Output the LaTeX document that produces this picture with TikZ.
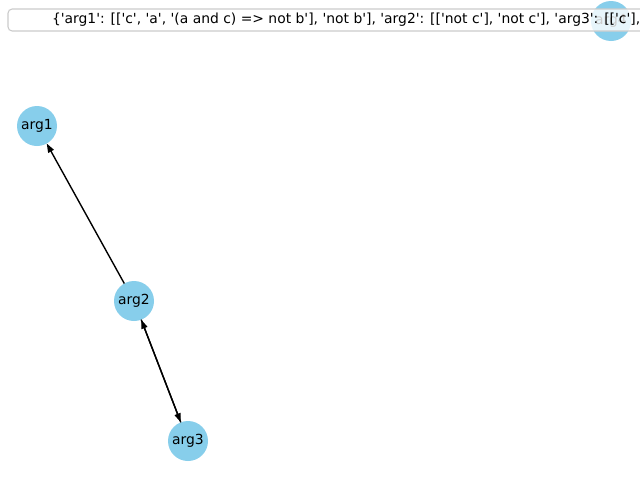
\documentclass[tikz,border=0pt]{standalone}
\usepackage{fontspec}
\setmainfont[Ligatures=TeXOff]{DejaVu Sans}
\usetikzlibrary{arrows.meta}
\begin{document}
\begin{tikzpicture}[x=0.72pt,y=-0.72pt,
  argnode/.style={circle,fill=nodeColor,draw=none,minimum size=28.8pt,inner sep=0pt,outer sep=0pt,font=\fontsize{10}{12}\selectfont},
  attack/.style={draw=drawColor,line width=1pt,-{Triangle[length=6.5pt,width=4.5pt]}}]
\definecolor{fillColor}{RGB}{255,255,255}
\definecolor{nodeColor}{RGB}{135,206,235}
\definecolor{drawColor}{RGB}{0,0,0}
\definecolor{frameColor}{RGB}{204,204,204}
\path[use as bounding box,fill=fillColor] (0,0) rectangle (640,480);
\begin{scope}
\path[clip] (0,0) rectangle (640,480);

\node[argnode] (arg1) at ( 37,126) {arg1};
\node[argnode] (arg2) at (134,301) {arg2};
\node[argnode] (arg3) at (188,441) {arg3};
\node[argnode] (arg4) at (611, 21) {arg4};

\draw[attack] (arg2) -- (arg1);
\draw[attack] (arg2) -- (arg3);
\draw[attack] (arg3) -- (arg2);

% legend
\path[draw=frameColor,line width=0.8pt,fill=fillColor,fill opacity=0.8,rounded corners=3pt] (8,9) rectangle (660,31);
\node[text=drawColor,anchor=west,inner sep=0pt,outer sep=0pt,font=\fontsize{10}{12}\selectfont] (legendtext) at (52,20) {\{'arg1': [['c', 'a', '(a and c) => not b'], 'not b'], 'arg2': [['not c'], 'not c'], 'arg3': [['c'],};
\end{scope}
\end{tikzpicture}
\end{document}
